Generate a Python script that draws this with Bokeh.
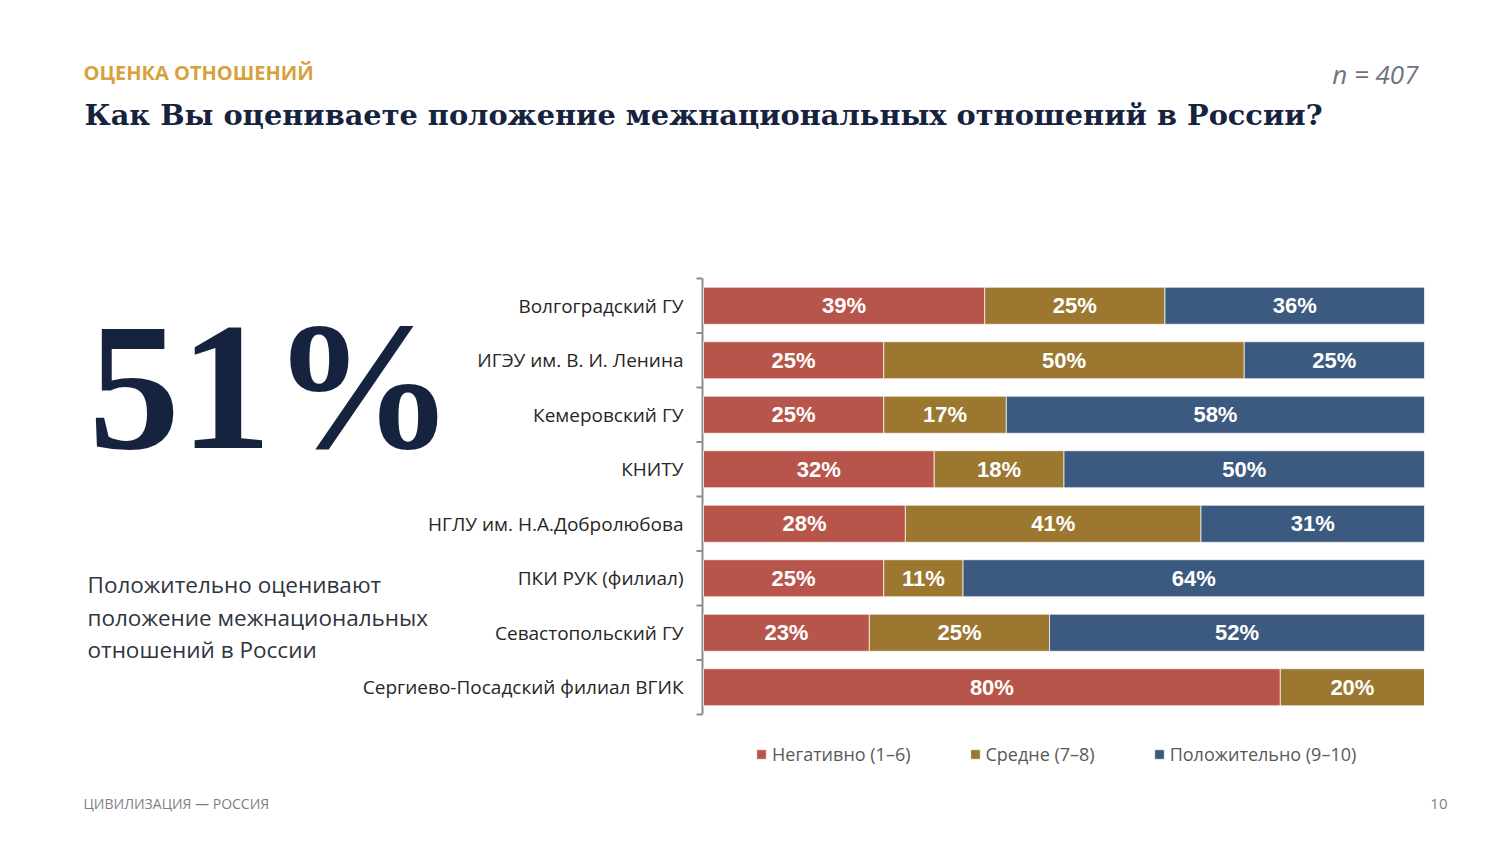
from bokeh.plotting import figure
from bokeh.models import Range1d, ColumnDataSource, Legend, LegendItem
from bokeh.core.properties import value
from bokeh.embed import file_html
from bokeh.resources import INLINE

# ---------------- data ----------------
categories = [
    "Волгоградский ГУ",
    "ИГЭУ им. В. И. Ленина",
    "Кемеровский ГУ",
    "КНИТУ",
    "НГЛУ им. Н.А.Добролюбова",
    "ПКИ РУК (филиал)",
    "Севастопольский ГУ",
    "Сергиево-Посадский филиал ВГИК",
]
negative = [39, 25, 25, 32, 28, 25, 23, 80]
middle = [25, 50, 17, 18, 41, 11, 25, 20]
positive = [36, 25, 58, 50, 31, 64, 52, 0]
series_names = ["Негативно (1–6)", "Средне (7–8)", "Положительно (9–10)"]

kicker = "ОЦЕНКА ОТНОШЕНИЙ"
title = "Как Вы оцениваете положение межнациональных отношений в России?"
sample = "n = 407"
big_value = "51%"
big_caption = ["Положительно оценивают", "положение межнациональных", "отношений в России"]
footer = "ЦИВИЛИЗАЦИЯ — РОССИЯ"
page_no = "10"

colors = ["#B8554A", "#9B7730", "#3C5A80"]

# ---------------- layout constants (page pixels) ----------------
W, H = 1484, 828
N = len(categories)
FRAME_L, FRAME_R, FRAME_T, CHART_B = 703, 1424, 278, 714
PX_PCT = (FRAME_R - FRAME_L) / 100.0
ROW = (CHART_B - FRAME_T) / N

# the frame covers the whole page; page-pixel ranges for slide texts,
# extra ranges (percent / rows) for the bar chart itself
p = figure(width=W, height=H, output_backend="svg", toolbar_location=None,
           x_range=Range1d(0, W), y_range=Range1d(H, 0),
           x_axis_location=None, y_axis_location=None, title_location=None,
           min_border=0)
p.outline_line_color = None
p.xgrid.visible = False
p.ygrid.visible = False
p.background_fill_color = "white"
p.border_fill_color = "white"
p.extra_x_ranges = {"pct": Range1d(-FRAME_L / PX_PCT, (W - FRAME_L) / PX_PCT)}
p.extra_y_ranges = {"rows": Range1d(-(H - CHART_B) / ROW, N + FRAME_T / ROW)}

ypos = [N - 0.5 - i for i in range(N)]  # first category on top

# bracket axis: vertical line plus ticks at row boundaries
bounds = list(range(N + 1))
ax_x0 = [-1 / PX_PCT] + [-7 / PX_PCT] * len(bounds)
ax_x1 = [-1 / PX_PCT] * (len(bounds) + 1)
ax_y0 = [0] + bounds
ax_y1 = [N] + bounds
p.segment(x0=ax_x0, y0=ax_y0, x1=ax_x1, y1=ax_y1, line_color="#8C8C8C", line_width=2,
          x_range_name="pct", y_range_name="rows")

keys = ["neg", "mid", "pos"]
source = ColumnDataSource(dict(y=ypos, neg=negative, mid=middle, pos=positive))
renderers = p.hbar_stack(keys, y="y", height=0.68, color=colors, source=source,
                         line_color="white", line_width=1, line_alpha=0.7,
                         x_range_name="pct", y_range_name="rows")

# category labels
p.text(x=[-20 / PX_PCT] * N, y=ypos, text=categories, text_align="right",
       text_baseline="middle", text_color="#262626", text_font=value("Open Sans"),
       text_font_size="19px", x_range_name="pct", y_range_name="rows")

# value labels on bars
lx, ly, lt = [], [], []
for i in range(N):
    start = 0
    for vals in (negative, middle, positive):
        v = vals[i]
        if v > 0:
            lx.append(start + v / 2)
            ly.append(ypos[i])
            lt.append(f"{v}%")
        start += v
lab_src = ColumnDataSource(dict(x=lx, y=ly, t=lt))
p.text(x="x", y="y", text="t", source=lab_src, text_align="center", text_baseline="middle",
       text_color="white", text_font=value("Liberation Sans"), text_font_style="bold",
       text_font_size="22px", x_range_name="pct", y_range_name="rows")

legend = Legend(items=[LegendItem(label=n, renderers=[r]) for n, r in zip(series_names, renderers)],
                orientation="horizontal", location=(755, H - 766),
                glyph_width=12, glyph_height=12, label_standoff=5, spacing=58,
                label_text_font="Open Sans", label_text_font_size="18px",
                label_text_color="#595959", border_line_color=None,
                background_fill_alpha=0, padding=0, margin=0)
p.add_layout(legend)


def txt(text, x, y, size, font, color, style="normal", align="left"):
    # y is the wanted baseline; the svg text sits ~0.35em lower than asked
    p.text(x=[x], y=[y - 0.35 * size], text=[text], text_font=value(font),
           text_font_size=f"{size}px", text_color=color, text_font_style=style,
           text_align=align, text_baseline="alphabetic")


txt(kicker, 83, 79, 20, "Open Sans", "#D6A13C", "bold")
txt(title, 84, 125, 28.8, "DejaVu Serif", "#16233F", "bold")
txt(sample, 1418, 83, 26, "Open Sans", "#6E7380", "italic", "right")
txt(big_value, 88, 450, 183, "Liberation Serif", "#16233F", "bold")
for k, line in enumerate(big_caption):
    txt(line, 87, 592 + 32.5 * k, 22.5, "Open Sans", "#2F3540")
txt(footer, 83, 808, 14, "Open Sans", "#7A7F88")
txt(page_no, 1447, 809, 15, "Open Sans", "#7A7F88", "normal", "right")

open("out.html", "w").write(file_html(p, INLINE))
